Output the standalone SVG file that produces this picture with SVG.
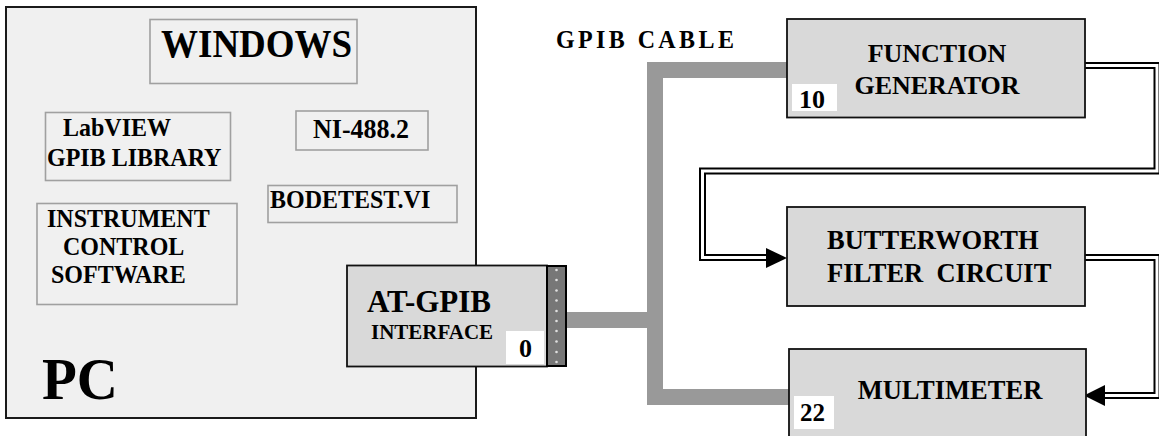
<svg xmlns="http://www.w3.org/2000/svg" width="1159" height="436" viewBox="0 0 1159 436">
<style>
text{font-family:"Liberation Serif","Times New Roman",serif;font-weight:bold;fill:#000}
.pc{fill:#f0f0f0;stroke:#1a1a1a;stroke-width:2}
.sw{fill:#f0f0f0;stroke:#a0a0a0;stroke-width:1.6}
.hw{fill:#d9d9d9;stroke:#111;stroke-width:1.8}
.addr{fill:#fff;stroke:none}
.cable{fill:none;stroke:#999;stroke-width:16;stroke-linejoin:miter}
.dlo{fill:none;stroke:#000;stroke-width:7;stroke-linejoin:miter}
.dli{fill:none;stroke:#fff;stroke-width:3;stroke-linejoin:miter}
.arr{fill:#000}
.dot{fill:#e0e0e0}
</style>
<g id="pc">
<rect class="pc" x="6" y="7" width="470" height="411"/>
<text transform="translate(42 399) scale(1 1.03)" font-size="57">PC</text>
</g>
<g id="windows">
<rect class="sw" x="150" y="19.5" width="207" height="64"/>
<text transform="translate(161 57) scale(1 1.09)" font-size="37">WINDOWS</text>
</g>
<g id="labview">
<rect class="sw" x="45.5" y="112.5" width="185" height="68"/>
<text transform="translate(63 136) scale(1 1.08)" font-size="24">LabVIEW</text>
<text transform="translate(47 166) scale(1 1.08)" font-size="24">GPIB LIBRARY</text>
</g>
<g id="ni4882">
<rect class="sw" x="296" y="111" width="132" height="39"/>
<text transform="translate(313 138) scale(1 1.08)" font-size="26">NI-488.2</text>
</g>
<g id="bodetest">
<rect class="sw" x="268" y="185.5" width="189" height="37"/>
<text transform="translate(270 208) scale(1 1.08)" font-size="24">BODETEST.VI</text>
</g>
<g id="instrument">
<rect class="sw" x="37" y="203.5" width="200" height="101"/>
<text transform="translate(47 227) scale(1 1.08)" font-size="24">INSTRUMENT</text>
<text transform="translate(63 255) scale(1 1.08)" font-size="24">CONTROL</text>
<text transform="translate(51 283) scale(1 1.08)" font-size="24">SOFTWARE</text>
</g>
<g id="connectors">
<path class="cable" d="M787 70H655V397H789"/>
<path class="cable" d="M567 320H655"/>
<path class="dlo" d="M1085 65.5H1157V171H702.5V257.5H770"/>
<path class="dli" d="M1085 65.5H1157V171H702.5V257.5H770"/>
<polygon class="arr" points="787,258 766,248 766,268"/>
<path class="dlo" d="M1085 257.5H1157V395.5H1100"/>
<path class="dli" d="M1085 257.5H1157V395.5H1100"/>
<polygon class="arr" points="1084,395.5 1105,385 1105,406"/>
<text transform="translate(556 48) scale(1 1.06)" font-size="24" letter-spacing="3.4">GPIB CABLE</text>
</g>
<g id="at-gpib">
<rect class="hw" x="347" y="265.5" width="200" height="101"/>
<rect class="addr" x="506" y="331" width="38" height="33"/>
<text x="519" y="357" font-size="26">0</text>
<text x="367" y="312" font-size="31">AT-GPIB</text>
<text x="371" y="339" font-size="21">INTERFACE</text>
<rect x="547" y="266" width="19" height="100" fill="#777" stroke="#000" stroke-width="2"/>
<g>
<circle class="dot" cx="556.5" cy="270" r="1.3"/>
<circle class="dot" cx="556.5" cy="280" r="1.3"/>
<circle class="dot" cx="556.5" cy="290.5" r="1.3"/>
<circle class="dot" cx="556.5" cy="300.5" r="1.3"/>
<circle class="dot" cx="556.5" cy="311" r="1.3"/>
<circle class="dot" cx="556.5" cy="321" r="1.3"/>
<circle class="dot" cx="556.5" cy="331" r="1.3"/>
<circle class="dot" cx="556.5" cy="341.5" r="1.3"/>
<circle class="dot" cx="556.5" cy="352" r="1.3"/>
<circle class="dot" cx="556.5" cy="362" r="1.3"/>
</g>
</g>
<g id="function-generator">
<rect class="hw" x="787" y="19" width="298" height="98.5"/>
<rect class="addr" x="792" y="84" width="45" height="27"/>
<text x="799" y="108" font-size="26">10</text>
<text x="937" y="62" font-size="26" text-anchor="middle">FUNCTION</text>
<text x="937" y="94" font-size="26" text-anchor="middle">GENERATOR</text>
</g>
<g id="butterworth">
<rect class="hw" x="787" y="207" width="298" height="99"/>
<text x="827" y="249" font-size="26.5">BUTTERWORTH</text>
<text x="827" y="282" font-size="26.5" xml:space="preserve">FILTER  CIRCUIT</text>
</g>
<g id="multimeter">
<rect class="hw" x="789" y="349" width="297" height="100"/>
<rect class="addr" x="794" y="396" width="40" height="33"/>
<text x="800" y="421" font-size="25">22</text>
<text x="950" y="399" font-size="26.5" text-anchor="middle">MULTIMETER</text>
</g>
</svg>
